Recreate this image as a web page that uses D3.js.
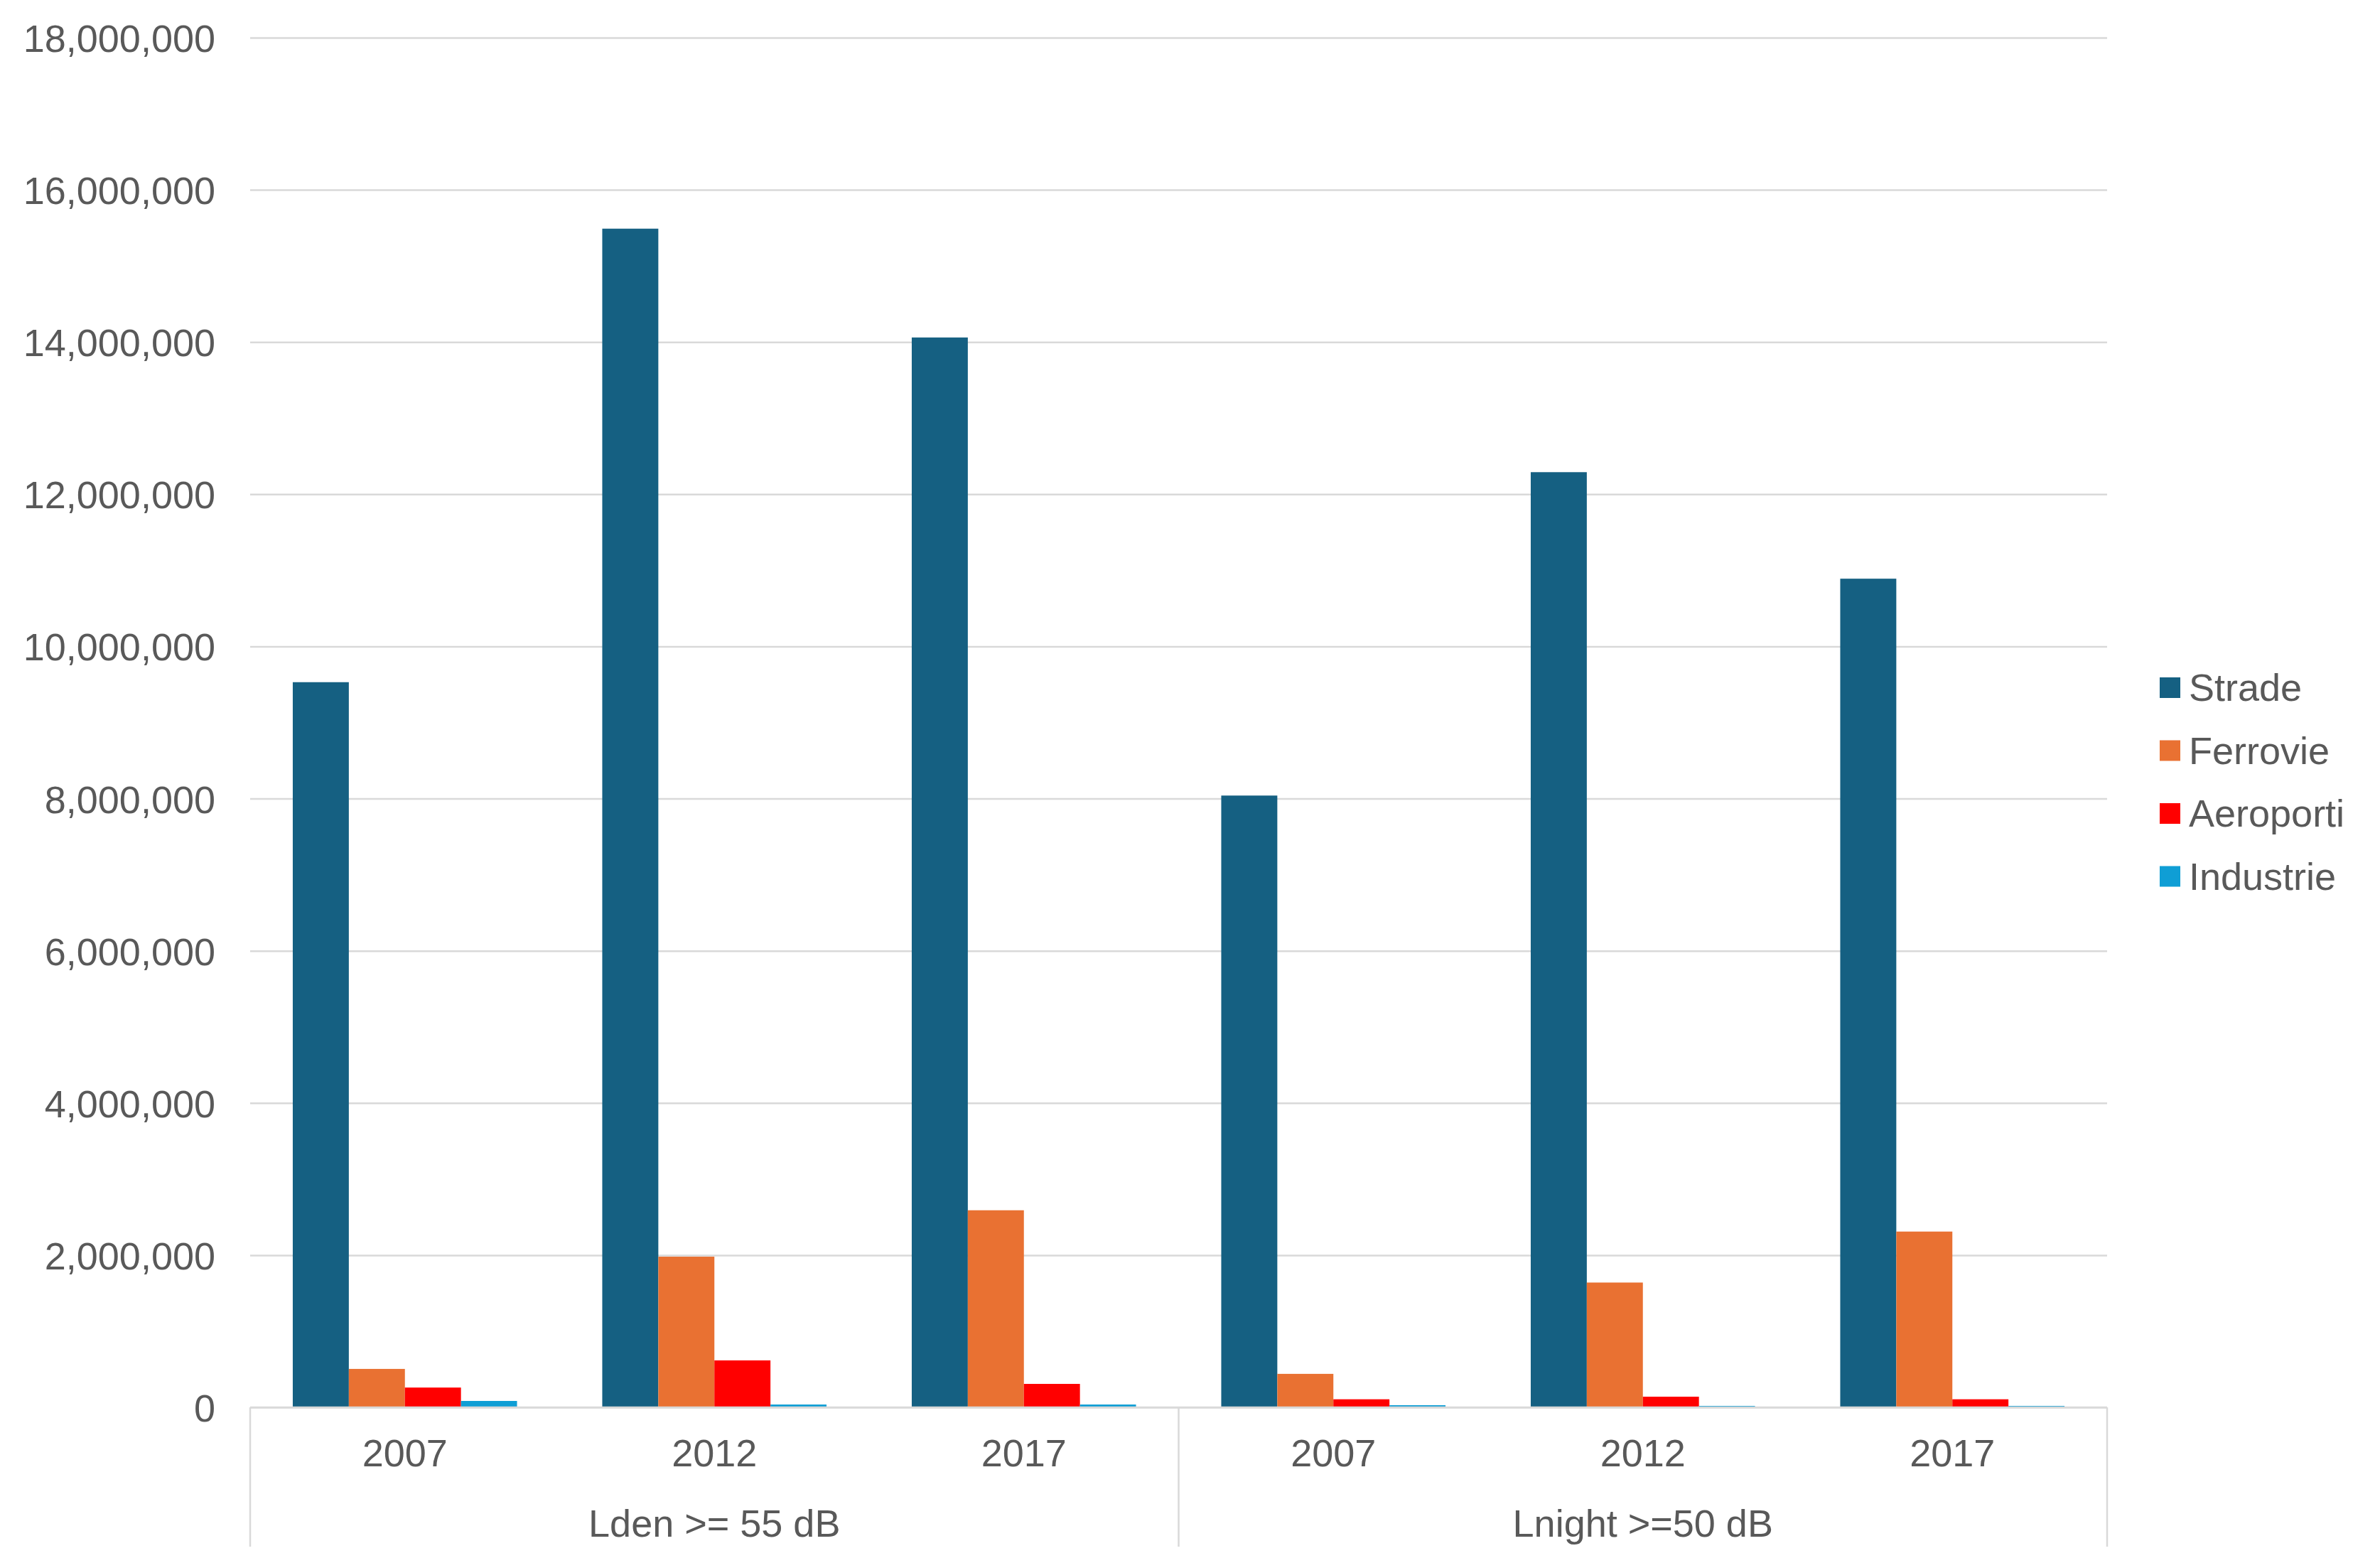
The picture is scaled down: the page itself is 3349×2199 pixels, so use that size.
<!DOCTYPE html>
<html>
<head>
<meta charset="utf-8">
<script src="https://cdn.jsdelivr.net/npm/d3@7"></script>
<style>
  body { margin: 0; background: #fff; }
  text { font-family: "Liberation Sans", Arial, sans-serif; fill: #595959; }
</style>
</head>
<body>
<svg id="chart" width="3349" height="2199"></svg>
<script>
// chart values
var groups = ["Lden >= 55 dB", "Lnight >=50 dB"];
var years = ["2007", "2012", "2017"];
var seriesNames = ["Strade", "Ferrovie", "Aeroporti", "Industrie"];
var seriesColors = ["#156082", "#E97132", "#FF0000", "#0F9ED5"];
var strade    = [9530000, 15490000, 14060000, 8040000, 12290000, 10890000];
var ferrovie  = [505000, 1980000, 2590000, 440000, 1640000, 2310000];
var aeroporti = [260000, 617000, 308000, 106000, 140000, 106000];
var industrie = [84000, 37000, 37000, 28000, 19000, 19000];
var yTicks = [0, 2000000, 4000000, 6000000, 8000000, 10000000, 12000000, 14000000, 16000000, 18000000];

var values = [strade, ferrovie, aeroporti, industrie];

// one entry per category on the x axis (group x year)
var cats = [];
groups.forEach(function(g, gi) {
  years.forEach(function(y, yi) {
    cats.push({ key: g + "|" + y, group: g, year: y, idx: gi * years.length + yi });
  });
});

// plot frame (note: "top" is reserved on window, so prefix these)
var plotLeft = 352, plotRight = 2965, plotTop = 53, plotBase = 1980, axisBottom = 2176;

var svg = d3.select("#chart");

var x = d3.scaleBand()
  .domain(cats.map(function(d) { return d.key; }))
  .range([plotLeft, plotRight])
  .padding(0);

var xs = d3.scaleBand()
  .domain(seriesNames)
  .range([0, x.bandwidth()])
  .paddingInner(0)
  .paddingOuter(0.76);

var y = d3.scaleLinear()
  .domain([0, 18000000])
  .range([plotBase, plotTop]);

// gridlines + tick labels
var yAxis = svg.append("g")
  .attr("transform", "translate(" + plotLeft + ",0)")
  .call(d3.axisLeft(y)
    .tickValues(yTicks)
    .tickFormat(d3.format(","))
    .tickSize(-(plotRight - plotLeft))
    .tickPadding(49));
yAxis.select(".domain").remove();
yAxis.selectAll(".tick line")
  .attr("stroke", "#d9d9d9")
  .attr("stroke-width", 2.5);
yAxis.selectAll(".tick text")
  .style("font-size", "54px")
  .attr("dy", "0.36em");

// bars
seriesNames.forEach(function(s, si) {
  svg.append("g")
    .attr("fill", seriesColors[si])
    .selectAll("rect")
    .data(cats)
    .join("rect")
    .attr("x", function(d) { return x(d.key) + xs(s); })
    .attr("width", xs.bandwidth())
    .attr("y", function(d) { return y(values[si][d.idx]); })
    .attr("height", function(d) { return plotBase - y(values[si][d.idx]); });
});

// category axis: baseline and group separators
var axisG = svg.append("g")
  .attr("stroke", "#d9d9d9")
  .attr("stroke-width", 2.5);
axisG.append("line")
  .attr("x1", plotLeft).attr("x2", plotRight)
  .attr("y1", y(0)).attr("y2", y(0));
var sepX = [plotLeft];
groups.forEach(function(g) {
  var last = cats.filter(function(d) { return d.group === g; }).slice(-1)[0];
  sepX.push(x(last.key) + x.bandwidth());
});
axisG.selectAll("line.sep")
  .data(sepX)
  .join("line")
  .attr("class", "sep")
  .attr("x1", function(d) { return d; }).attr("x2", function(d) { return d; })
  .attr("y1", y(0)).attr("y2", axisBottom);

// year labels
svg.append("g")
  .selectAll("text")
  .data(cats)
  .join("text")
  .attr("x", function(d) { return x(d.key) + x.bandwidth() / 2; })
  .attr("y", 2063)
  .attr("text-anchor", "middle")
  .style("font-size", "54px")
  .text(function(d) { return d.year; });

// group labels
svg.append("g")
  .selectAll("text")
  .data(groups)
  .join("text")
  .attr("x", function(g) {
    var gc = cats.filter(function(d) { return d.group === g; });
    return (x(gc[0].key) + x(gc[gc.length - 1].key) + x.bandwidth()) / 2;
  })
  .attr("y", 2162)
  .attr("text-anchor", "middle")
  .style("font-size", "54px")
  .text(function(g) { return g; });

// legend
var legend = svg.append("g")
  .attr("transform", "translate(3039,953)");
var item = legend.selectAll("g")
  .data(seriesNames)
  .join("g")
  .attr("transform", function(d, i) { return "translate(0," + (i * 88.5) + ")"; });
item.append("rect")
  .attr("width", 29).attr("height", 29)
  .attr("fill", function(d, i) { return seriesColors[i]; });
item.append("text")
  .attr("x", 41)
  .attr("y", 33)
  .style("font-size", "54px")
  .text(function(d) { return d; });
</script>
</body>
</html>
